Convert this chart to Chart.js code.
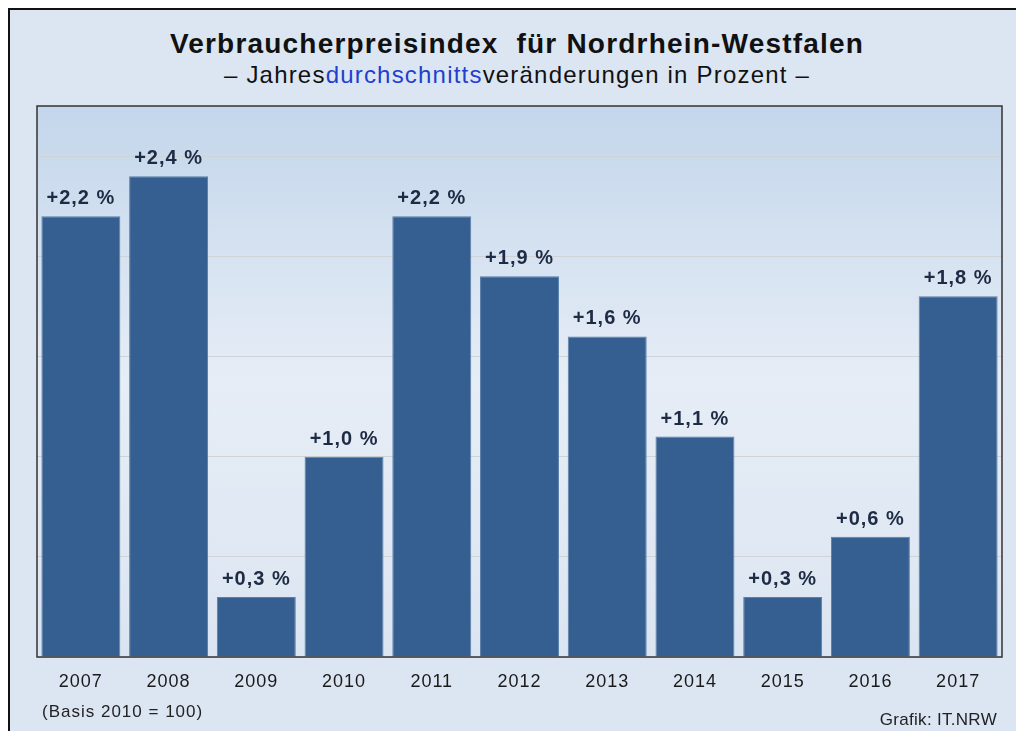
<!DOCTYPE html>
<html><head><meta charset="utf-8">
<script src="https://cdn.jsdelivr.net/npm/chart.js@4/dist/chart.umd.min.js"></script>
<style>
html,body{margin:0;padding:0;background:#fff;width:1016px;height:731px;overflow:hidden;font-family:"Liberation Sans",Arial,sans-serif;}
#frame{position:absolute;left:8px;top:8px;width:1020px;height:740px;background:#dce6f2;border-left:2px solid #111;border-top:2px solid #111;box-sizing:border-box;}
#wrap{position:absolute;left:0;top:0;width:1016px;height:731px;}
.t{position:absolute;left:0;width:1034px;text-align:center;color:#111;white-space:nowrap;line-height:1;}
#title{top:30px;font-size:28px;font-weight:bold;letter-spacing:1.2px;}
#sub{top:63px;font-size:24px;letter-spacing:1.2px;}
#sub span{color:#1f3fd0;}
#basis{position:absolute;left:42px;top:703px;font-size:17px;line-height:1;color:#222;letter-spacing:1px;}
#src{position:absolute;right:19px;top:711px;font-size:17px;line-height:1;color:#222;letter-spacing:0.3px;}
</style></head>
<body>
<div id="frame"></div>
<div class="t" id="title">Verbraucherpreisindex&nbsp; für Nordrhein-Westfalen</div>
<div class="t" id="sub">– Jahres<span>durchschnitts</span>veränderungen in Prozent –</div>
<div id="wrap"><canvas id="c" width="1016" height="731"></canvas></div>
<div id="basis">(Basis 2010 = 100)</div>
<div id="src">Grafik: IT.NRW</div>
<script>
const years = ["2007","2008","2009","2010","2011","2012","2013","2014","2015","2016","2017"];
const changes = [2.2, 2.4, 0.3, 1.0, 2.2, 1.9, 1.6, 1.1, 0.3, 0.6, 1.8];
const valueLabels = ["+2,2 %","+2,4 %","+0,3 %","+1,0 %","+2,2 %","+1,9 %","+1,6 %","+1,1 %","+0,3 %","+0,6 %","+1,8 %"];

const bgPlugin = {
  id:'bg',
  beforeDraw(chart){
    const {ctx, chartArea:a} = chart;
    ctx.letterSpacing = '1px';
    const g = ctx.createLinearGradient(0,a.top,0,a.bottom);
    g.addColorStop(0,'#c3d6eb');
    g.addColorStop(0.5,'#e6edf6');
    g.addColorStop(1,'#dbe5f1');
    ctx.save(); ctx.fillStyle=g; ctx.fillRect(a.left,a.top,a.right-a.left,a.bottom-a.top); ctx.restore();
  },
  afterDraw(chart){
    const {ctx, chartArea:a} = chart;
    ctx.save(); ctx.strokeStyle='#333'; ctx.lineWidth=1.5;
    ctx.strokeRect(a.left,a.top,a.right-a.left,a.bottom-a.top); ctx.restore();
  }
};
const labelPlugin = {
  id:'vals',
  afterDatasetsDraw(chart){
    const {ctx} = chart;
    const meta = chart.getDatasetMeta(0);
    ctx.save();
    ctx.letterSpacing = '1px';
    ctx.font = 'bold 20px "Liberation Sans", Arial, sans-serif';
    ctx.fillStyle = '#1e2b44';
    ctx.textAlign = 'center'; ctx.textBaseline='alphabetic';
    meta.data.forEach((bar,i)=>{ ctx.fillText(valueLabels[i], bar.x, bar.y - 12); });
    ctx.restore();
  }
};

new Chart(document.getElementById('c'), {
  type:'bar',
  data:{labels:years, datasets:[{data:changes, backgroundColor:'#365f91', borderColor:'#5a7eaa', borderWidth:1, categoryPercentage:1, barPercentage:0.9}]},
  options:{
    responsive:false, animation:false,
    layout:{padding:{left:37,top:106,right:14,bottom:34}},
    plugins:{legend:{display:false},tooltip:{enabled:false},title:{display:false}},
    scales:{
      x:{grid:{display:false}, border:{display:false},
         ticks:{color:'#1a1a1a', font:{family:'"Liberation Sans", Arial, sans-serif', size:18}, padding:6},
         afterFit(s){ s.height = 40; }},
      y:{min:0,max:2.75, ticks:{display:false, stepSize:0.5}, border:{display:false},
         grid:{color:'#cfd3d6', lineWidth:1, drawTicks:false}}
    }
  },
  plugins:[bgPlugin,labelPlugin]
});
</script>
</body></html>
